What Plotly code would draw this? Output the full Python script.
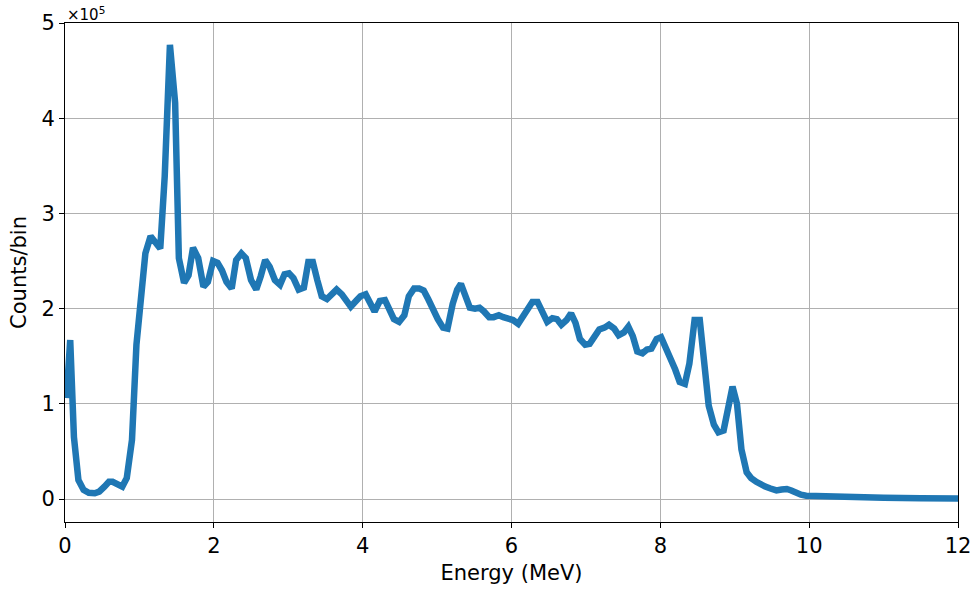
import plotly.graph_objects as go

energy_mev = [
    0.02, 0.07, 0.12, 0.18, 0.25, 0.32, 0.40, 0.46, 0.53, 0.59, 0.64, 0.71, 0.77, 0.83, 0.90, 0.96,
    1.03, 1.08, 1.15, 1.21, 1.28, 1.34, 1.41, 1.48, 1.53, 1.60, 1.66, 1.72, 1.79, 1.86, 1.92, 1.99,
    2.05, 2.11, 2.17, 2.24, 2.30, 2.37, 2.43, 2.50, 2.57, 2.63, 2.69, 2.75, 2.82, 2.89, 2.95, 3.01,
    3.07, 3.14, 3.21, 3.27, 3.33, 3.39, 3.45, 3.52, 3.59, 3.65, 3.72, 3.78, 3.84, 3.91, 3.97, 4.04,
    4.10, 4.16, 4.23, 4.30, 4.36, 4.42, 4.49, 4.56, 4.62, 4.69, 4.76, 4.82, 4.88, 4.95, 5.01, 5.08,
    5.14, 5.21, 5.27, 5.32, 5.38, 5.44, 5.51, 5.57, 5.63, 5.70, 5.76, 5.83, 5.89, 5.96, 6.02, 6.09,
    6.15, 6.22, 6.28, 6.35, 6.42, 6.48, 6.55, 6.61, 6.67, 6.74, 6.80, 6.86, 6.92, 6.99, 7.05, 7.12,
    7.18, 7.25, 7.31, 7.38, 7.44, 7.51, 7.57, 7.63, 7.69, 7.76, 7.82, 7.88, 7.95, 8.01, 8.07, 8.14,
    8.20, 8.26, 8.33, 8.39, 8.46, 8.53, 8.59, 8.65, 8.72, 8.78, 8.85, 8.91, 8.97, 9.03, 9.09, 9.16,
    9.22, 9.29, 9.35, 9.41, 9.48, 9.56, 9.63, 9.70, 9.76, 9.83, 9.89, 9.96, 10.1, 10.3, 10.6, 11.0,
    11.5, 12.0,
]

counts_per_bin = [
    106000, 167000, 65000, 20000, 9500, 6500, 6000, 7700, 13000, 18000, 18000, 15000, 13000, 22000, 62000, 162000,
    220000, 258000, 276000, 269000, 263000, 339000, 477000, 416000, 253000, 227000, 235000, 264000, 253000, 223000, 228000, 250000,
    248000, 240000, 228000, 221000, 251000, 258000, 253000, 230000, 220000, 234000, 251000, 244000, 230000, 225000, 236000, 237000,
    232000, 220000, 222000, 249000, 249000, 230000, 213000, 210000, 215000, 220000, 215000, 209000, 202000, 208000, 213000, 215000,
    205000, 197000, 208000, 209000, 199000, 189000, 186000, 193000, 213000, 221000, 221000, 219000, 210000, 197000, 189000, 180000,
    179000, 205000, 220000, 226000, 214000, 201000, 200000, 201000, 197000, 191000, 191000, 193000, 191000, 189000, 188000, 184000,
    191000, 198000, 207000, 207000, 195000, 186000, 190000, 189000, 183000, 188000, 195000, 185000, 168000, 162000, 163000, 172000,
    178000, 180000, 183000, 179000, 172000, 175000, 181000, 171000, 155000, 153000, 157000, 158000, 168000, 170000, 160000, 148000,
    136000, 123000, 121000, 142000, 188000, 188000, 142000, 98000, 78000, 70000, 72000, 95000, 118000, 100000, 52000, 28000,
    22000, 18000, 15000, 13000, 11000, 9000, 10000, 10500, 9000, 6000, 4500, 3500, 3000, 2500, 1800, 1200,
    800, 500,
]

y_tick_vals = [0, 100000, 200000, 300000, 400000, 500000]
y_tick_text = ["0", "1", "2", "3", "4", "5"]
x_tick_vals = [0, 2, 4, 6, 8, 10, 12]

FONT = "DejaVu Sans"

fig = go.Figure()
fig.add_trace(go.Scatter(
    x=energy_mev, y=counts_per_bin, mode="lines",
    line=dict(color="#1f77b4", width=6.5),
    showlegend=False,
))

axis_common = dict(
    showline=True, linecolor="black", linewidth=1, mirror=True,
    ticks="outside", ticklen=5, tickwidth=1, tickcolor="black",
    showgrid=True, gridcolor="#b0b0b0", gridwidth=1, zeroline=False,
    tickfont=dict(family=FONT, size=21, color="black"),
    automargin=False,
)

fig.update_layout(
    width=976, height=591,
    margin=dict(l=65, r=18, t=23, b=69),
    paper_bgcolor="white", plot_bgcolor="white",
    font=dict(family=FONT, size=21, color="black"),
    xaxis=dict(
        range=[0, 12], tickvals=x_tick_vals,
        title=dict(text="Energy (MeV)", font=dict(family=FONT, size=21), standoff=8),
        **axis_common,
    ),
    yaxis=dict(
        range=[-24160, 500000], tickvals=y_tick_vals, ticktext=y_tick_text,
        title=dict(text="Counts/bin", font=dict(family=FONT, size=21), standoff=9),
        **axis_common,
    ),
    annotations=[dict(
        text="×10<sup>5</sup>", xref="paper", yref="paper", x=0, y=1,
        xanchor="left", yanchor="bottom", showarrow=False,
        font=dict(family=FONT, size=15, color="black"), yshift=-3,
    )],
)

fig.write_html("out.html")
